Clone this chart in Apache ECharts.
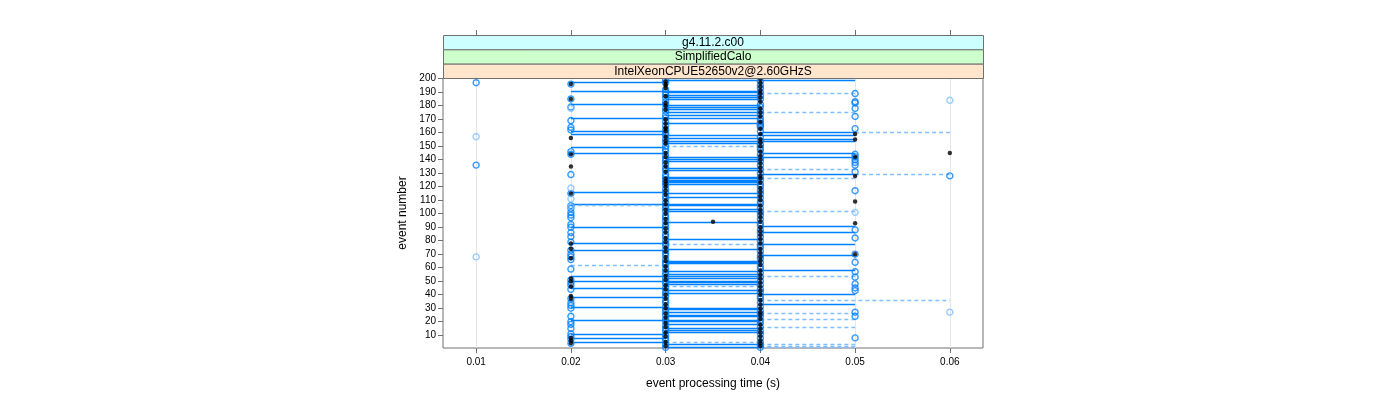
<!DOCTYPE html>
<html>
<head>
<meta charset="utf-8">
<script src="https://cdn.jsdelivr.net/npm/echarts@6/dist/echarts.min.js"></script>
<style>html,body{margin:0;padding:0;background:#fff;}#c{width:1400px;height:400px;}</style>
</head>
<body>
<div id="c"></div>
<script>
// ---- tick labels / strips ----
const xTicks = [0.01, 0.02, 0.03, 0.04, 0.05, 0.06];
const yTicks = [10,20,30,40,50,60,70,80,90,100,110,120,130,140,150,160,170,180,190,200];
const stripLabels = ['g4.11.2.c00', 'SimplifiedCalo', 'IntelXeonCPUE52650v2@2.60GHzS'];
const xTitle = 'event processing time (s)';
const yTitle = 'event number';

// ---- open blue circles: event numbers per processing time (s) ----
const blue010 = [197, 136];
const blue020 = [196,185,179,169,164,162,146,144,129,115,106,104,101,99,97,92,90,86,83,79,73,70,68,66,59,51,49,47,44,37,34,32,30,24,20,18,15,11,9,7,4];
const blue030 = [199,197,192,190,188,186,183,181,178,176,173,171,168,165,162,160,158,155,153,150,148,146,143,141,139,137,134,132,129,127,125,123,121,118,116,113,111,108,106,104,102,99,97,95,92,90,88,85,83,80,78,76,73,71,69,66,64,62,59,57,55,52,50,48,45,43,41,39,36,34,31,29,27,25,22,20,17,15,13,10,8,6,3,1];
const blue040 = [198,195,193,190,187,185,181,179,176,174,171,169,167,166,165,164,161,157,154,151,149,147,144,141,139,136,133,130,127,125,122,120,117,115,112,109,107,104,101,99,96,93,91,88,86,83,80,77,75,72,69,67,64,61,59,56,53,50,47,44,42,39,37,34,31,28,26,24,21,19,16,13,11,8,5,3,1];
const blue050 = [189,183,182,178,172,163,144,142,140,138,136,131,117,88,82,70,64,57,53,48,45,43,27,24,8];
const blue060 = [128];

// ---- light blue open circles ----
const light010 = [157, 68];
const light020 = [178, 119, 111, 105];
const light050 = [101];
const light060 = [184, 27];

// ---- black filled dots ----
const black020 = [196,185,156,144,135,115,78,74,67,52,50,46,39,37,8,6,4];
const black030 = [198,196,195,193,187,182,180,177,170,167,164,163,161,157,154,152,145,142,138,135,131,126,124,122,120,117,114,110,107,103,100,96,93,89,86,82,79,75,72,68,65,61,58,54,51,47,44,40,37,33,30,26,23,19,16,12,9,5,2];
const black035 = [94];
const black040 = [200,197,194,191,189,186,183,178,175,172,168,163,159,155,153,150,146,143,140,137,134,131,128,126,123,119,116,113,110,106,103,100,97,94,90,87,84,81,78,74,71,68,65,62,58,55,52,49,46,43,40,36,33,30,27,25,22,18,15,12,9,6,4,2];
const black050 = [159,155,142,128,109,93,70];
const black060 = [145];

// ---- horizontal connecting lines: [event, from time, to time] ----
const solidSegs = [
  [197,0.02,0.03],[191,0.02,0.04],[181,0.02,0.03],[171,0.02,0.03],[161,0.02,0.03],[159,0.02,0.03],
  [149,0.02,0.03],[145,0.02,0.03],[116,0.02,0.03],[107,0.02,0.03],[90,0.02,0.03],[78,0.02,0.03],
  [73,0.02,0.03],[54,0.02,0.03],[50,0.02,0.03],[45,0.02,0.03],[38,0.02,0.03],[31,0.02,0.03],
  [21,0.02,0.03],[11,0.02,0.03],[8,0.02,0.03],[5,0.02,0.03],
  [199,0.03,0.05],[190,0.03,0.04],[188,0.03,0.04],[186,0.03,0.04],[185,0.03,0.04],[180,0.03,0.04],
  [179,0.03,0.04],[177,0.03,0.04],[175,0.03,0.04],[173,0.03,0.04],[171,0.03,0.04],[167,0.03,0.04],
  [158,0.03,0.04],[156,0.03,0.04],[154,0.03,0.04],[152,0.03,0.04],[142,0.03,0.04],[140,0.03,0.04],
  [139,0.03,0.04],[134,0.03,0.04],[132,0.03,0.04],[127,0.03,0.04],[126,0.03,0.04],[125,0.03,0.04],
  [124,0.03,0.04],[123,0.03,0.04],[122,0.03,0.04],[115,0.03,0.04],[112,0.03,0.04],[107,0.03,0.04],
  [106,0.03,0.04],[103,0.03,0.04],[102,0.03,0.04],[94,0.03,0.04],[81,0.03,0.04],[74,0.03,0.04],
  [65,0.03,0.04],[64,0.03,0.04],[63,0.03,0.04],[57,0.03,0.04],[55,0.03,0.04],[54,0.03,0.04],
  [52,0.03,0.04],[50,0.03,0.04],[49,0.03,0.04],[48,0.03,0.04],[43,0.03,0.04],[41,0.03,0.04],
  [30,0.03,0.04],[29,0.03,0.04],[27,0.03,0.04],[25,0.03,0.04],[24,0.03,0.04],[21,0.03,0.04],
  [20,0.03,0.04],[18,0.03,0.04],[15,0.03,0.04],[14,0.03,0.04],[12,0.03,0.04],[3,0.03,0.04],[1,0.03,0.04],
  [160,0.04,0.05],[158,0.04,0.05],[155,0.04,0.05],[154,0.04,0.05],[145,0.04,0.05],[142,0.04,0.05],
  [129,0.04,0.05],[91,0.04,0.05],[86,0.04,0.05],[77,0.04,0.05],[69,0.04,0.05],[58,0.04,0.05],
  [40,0.04,0.05],[33,0.04,0.05]
];
const dashSegs = [
  [200,0.03,0.04],[150,0.03,0.04],[77,0.03,0.04],[46,0.03,0.04],[5,0.03,0.04],
  [106,0.02,0.03],[62,0.02,0.03],
  [189,0.04,0.05],[175,0.04,0.05],[133,0.04,0.05],[126,0.04,0.05],[102,0.04,0.05],[54,0.04,0.05],
  [26,0.04,0.05],[22,0.04,0.05],[16,0.04,0.05],[3,0.04,0.05],[2,0.04,0.05],[1,0.04,0.05],
  [160,0.05,0.06],[129,0.05,0.06],[36,0.04,0.06]
];

// ---- build ----
const FONT = 'Liberation Sans';
const BLUE = '#0080ff';
const LIGHT = '#80bfff';
const AX = '#707070';
function pts(t, evs) { return evs.map(e => [t, e]); }
const blueOpen = [].concat(pts(0.01,blue010), pts(0.02,blue020), pts(0.03,blue030), pts(0.04,blue040), pts(0.05,blue050), pts(0.06,blue060));
const lightOpen = [].concat(pts(0.01,light010), pts(0.02,light020), pts(0.05,light050), pts(0.06,light060));
const blackDots = [].concat(pts(0.02,black020), pts(0.03,black030), pts(0.035,black035), pts(0.04,black040), pts(0.05,black050), pts(0.06,black060));

const X_MIN = 0.0065, X_MAX = 0.0635, Y_MIN = 0.5, Y_MAX = 200.5;
const G = {left: 443, top: 78, width: 540, height: 270};
const stripH = 14.33;

const chart = echarts.init(document.getElementById('c'), null, {renderer: 'canvas'});
const graphics = [];
stripLabels.forEach((s, i) => {
  const fills = ['#ccffff', '#ccffcc', '#ffe5cc'];
  const y0 = G.top - (3 - i) * stripH;
  graphics.push({type: 'rect', left: G.left, top: y0, shape: {x: 0, y: 0, width: G.width, height: stripH},
    style: {fill: fills[i], stroke: AX, lineWidth: 1}, z: 10});
  graphics.push({type: 'text', x: G.left + G.width / 2, y: y0 + stripH / 2 + 0.5,
    style: {text: s, fill: '#000', font: '12px "' + FONT + '"', align: 'center', verticalAlign: 'middle'}, z: 11});
});
graphics.push({type: 'text', x: G.left + G.width / 2, y: 384,
  style: {text: xTitle, fill: '#000', font: '12px "' + FONT + '"', align: 'center', verticalAlign: 'middle'}});
graphics.push({type: 'text', x: 403, y: G.top + G.height / 2, rotation: Math.PI / 2,
  style: {text: yTitle, fill: '#000', font: '12px "' + FONT + '"', align: 'center', verticalAlign: 'middle'}});

chart.setOption({
  animation: false,
  backgroundColor: '#fff',
  textStyle: {fontFamily: FONT},
  grid: {left: G.left, top: G.top, width: G.width, height: G.height, show: true, borderColor: AX, borderWidth: 1, backgroundColor: 'transparent'},
  xAxis: [
    {type: 'value', min: X_MIN, max: X_MAX, position: 'bottom',
     axisLine: {show: false}, splitLine: {show: false},
     axisTick: {show: true, customValues: xTicks, length: 5, lineStyle: {color: AX}},
     axisLabel: {customValues: xTicks, formatter: v => v.toFixed(2), fontSize: 10, color: '#000', margin: 9, fontFamily: FONT}},
    {type: 'value', min: X_MIN, max: X_MAX, position: 'top', offset: 3 * stripH,
     axisLine: {show: false}, splitLine: {show: false},
     axisTick: {show: true, customValues: xTicks, length: 5, lineStyle: {color: AX}},
     axisLabel: {show: false}}
  ],
  yAxis: {type: 'value', min: Y_MIN, max: Y_MAX,
    axisLine: {show: false}, splitLine: {show: false},
    axisTick: {show: true, customValues: yTicks, length: 5, lineStyle: {color: AX}},
    axisLabel: {customValues: yTicks, fontSize: 10, color: '#000', margin: 7, fontFamily: FONT}},
  graphic: graphics,
  series: [
    {type: 'lines', coordinateSystem: 'cartesian2d', silent: true, z: 1,
     data: xTicks.map(t => ({coords: [[t, Y_MIN], [t, Y_MAX]]})),
     lineStyle: {color: '#e6e6e6', width: 1, opacity: 1}},
    {type: 'lines', coordinateSystem: 'cartesian2d', silent: true, z: 2,
     data: solidSegs.map(s => ({coords: [[s[1], s[0]], [s[2], s[0]]]})),
     lineStyle: {color: BLUE, width: 1.3, opacity: 1}},
    {type: 'lines', coordinateSystem: 'cartesian2d', silent: true, z: 3,
     data: dashSegs.map(s => ({coords: [[s[1], s[0]], [s[2], s[0]]]})),
     lineStyle: {color: LIGHT, width: 1.3, type: [4, 3], opacity: 1}},
    {type: 'scatter', z: 4, symbol: 'circle', symbolSize: 6, data: blueOpen,
     itemStyle: {color: 'rgba(0,0,0,0)', borderColor: BLUE, borderWidth: 1.4}},
    {type: 'scatter', z: 4, symbol: 'circle', symbolSize: 6, data: lightOpen,
     itemStyle: {color: 'rgba(0,0,0,0)', borderColor: LIGHT, borderWidth: 1.4}},
    {type: 'scatter', z: 5, symbol: 'circle', symbolSize: 4.5, data: blackDots,
     itemStyle: {color: '#000'}}
  ]
});
</script>
</body>
</html>
